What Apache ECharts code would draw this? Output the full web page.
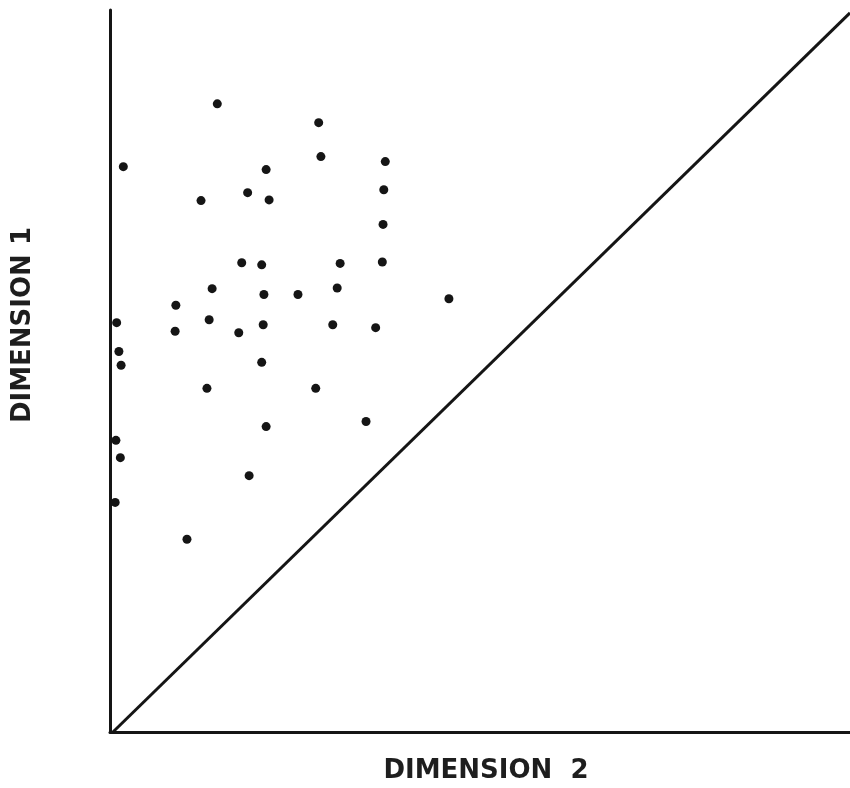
<!DOCTYPE html>
<html>
<head>
<meta charset="utf-8">
<script src="https://cdn.jsdelivr.net/npm/echarts@6/dist/echarts.min.js"></script>
<style>
  html, body { margin: 0; padding: 0; background: #fff; }
  #chart { width: 850px; height: 788px; }
</style>
</head>
<body>
<div id="chart"></div>
<script>
// Scatter of items on two dimensions (0–100 scale), with the line of equality.
const dimension2 = [
  14.5, 28.2, 1.8, 28.5, 21.1, 37.2, 18.6, 12.3, 21.5, 37.0,
  36.9, 17.8, 20.5, 31.1, 36.8, 13.8, 20.8, 25.4, 30.7, 45.8,
  8.9, 13.4, 0.9, 8.8, 17.4, 20.7, 30.1, 35.9, 1.2, 1.5,
  20.5, 13.1, 27.8, 34.6, 21.1, 0.8, 1.4, 18.8, 0.7, 10.4
];
const dimension1 = [
  87.0, 84.4, 78.3, 79.7, 77.9, 79.0, 74.7, 73.6, 73.7, 75.1,
  70.3, 65.0, 64.7, 64.9, 65.1, 61.4, 60.6, 60.6, 61.5, 60.0,
  59.1, 57.1, 56.7, 55.5, 55.3, 56.4, 56.4, 56.0, 52.7, 50.8,
  51.2, 47.6, 47.6, 43.0, 42.3, 40.4, 38.0, 35.5, 31.8, 26.7
];
// Equality line endpoints
const diagonalX = [0.4, 100];
const diagonalY = [0, 99.6];

const xTitle = 'DIMENSION  2';
const yTitle = 'DIMENSION 1';

const points = dimension2.map((x, i) => [x, dimension1[i]]);
const diagonal = diagonalX.map((x, i) => [x, diagonalY[i]]);

const ink = '#151515';
const titleStyle = {
  fontFamily: 'DejaVu Sans', fontWeight: 'bold', fontSize: 26,
  fill: '#1e1e1e', textAlign: 'center', textVerticalAlign: 'middle'
};

const chart = echarts.init(document.getElementById('chart'), null, { renderer: 'canvas' });
chart.setOption({
  animation: false,
  backgroundColor: '#fff',
  grid: { left: 110, right: 0, top: 10, bottom: 56, outerBoundsMode: 'none', containLabel: false },
  xAxis: {
    type: 'value', min: 0, max: 100,
    axisLine: { show: true, onZero: false, lineStyle: { color: ink, width: 3 } },
    axisTick: { show: false }, axisLabel: { show: false }, splitLine: { show: false }
  },
  yAxis: {
    type: 'value', min: 0, max: 100,
    axisLine: { show: true, onZero: false, lineStyle: { color: ink, width: 3 } },
    axisTick: { show: false }, axisLabel: { show: false }, splitLine: { show: false }
  },
  graphic: [
    { type: 'text', x: 486, y: 771, style: Object.assign({ text: xTitle }, titleStyle) },
    { type: 'text', x: 23, y: 325, rotation: Math.PI / 2, style: Object.assign({ text: yTitle }, titleStyle) }
  ],
  series: [
    {
      type: 'line', data: diagonal, symbol: 'none',
      lineStyle: { color: ink, width: 3 }, silent: true
    },
    {
      type: 'scatter', data: points, symbol: 'circle', symbolSize: 9,
      itemStyle: { color: ink, opacity: 1 }
    }
  ]
});
</script>
</body>
</html>
